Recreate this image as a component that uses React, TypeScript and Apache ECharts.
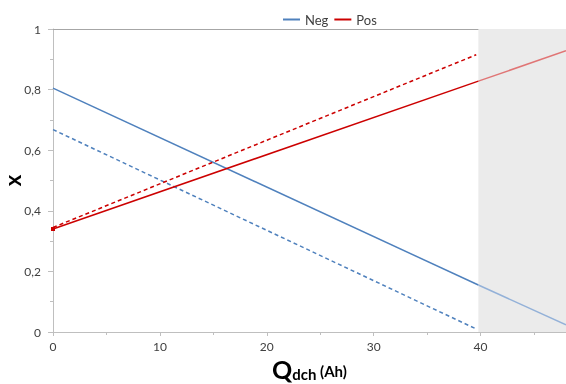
import React, { useEffect, useRef } from "react";
import * as echarts from "echarts";

const negSolid: [number, number][] = [[0, 0.805], [39.8, 0.155]];
const negSolidShaded: [number, number][] = [[39.8, 0.155], [48, 0.024]];
const negDashed: [number, number][] = [[0, 0.668], [39.6, 0.01]];
const posSolid: [number, number][] = [[0, 0.34], [39.8, 0.828]];
const posSolidShaded: [number, number][] = [[39.8, 0.828], [48, 0.928]];
const posDashed: [number, number][] = [[0, 0.345], [39.6, 0.915]];
const shadeRange: [number, number] = [39.8, 48];
const legendNames = ["Neg", "Pos"];

const BLUE = "#4f81bd";
const BLUE_LIGHT = "#93b1d8";
const RED = "#cc0000";
const RED_LIGHT = "#e07575";
const FONT = "Lato, 'Open Sans', sans-serif";

export default function App() {
  const ref = useRef<HTMLDivElement>(null);
  useEffect(() => {
    const chart = echarts.init(ref.current!, null, { renderer: "svg" });
    chart.setOption({
      animation: false,
      textStyle: { fontFamily: FONT },
      legend: {
        data: legendNames.map((n) => ({ name: n, icon: "rect" })),
        top: 8,
        left: 278,
        itemWidth: 17,
        itemHeight: 2,
        itemGap: 6,
        textStyle: { fontSize: 13, color: "#404040", fontFamily: FONT },
      },
      grid: { left: 53, right: 0, top: 29, bottom: 52, outerBoundsMode: "none", containLabel: false },
      xAxis: [
        {
          type: "value",
          min: 0,
          max: 48,
          interval: 10,
          name: "{q|Q}{s|dch}{a| (Ah)}",
          nameLocation: "middle",
          nameGap: 24,
          nameTextStyle: {
            rich: {
              q: { fontSize: 25, fontWeight: "bold", color: "#000", fontFamily: FONT },
              s: { fontSize: 15, fontWeight: "bold", color: "#000", fontFamily: FONT, padding: [10, 0, 0, 0] },
              a: { fontSize: 15, fontWeight: "bold", color: "#000", fontFamily: FONT, padding: [4, 0, 0, 0] },
            },
          },
          axisLine: { show: true, lineStyle: { color: "#bfbfbf" } },
          axisTick: { show: true, length: 4, lineStyle: { color: "#bfbfbf" } },
          minorTick: { show: true, splitNumber: 2, length: 3, lineStyle: { color: "#bfbfbf" } },
          axisLabel: {
            color: "#404040",
            fontSize: 12,
            margin: 8,
            showMaxLabel: false,
          },
          splitLine: { show: false },
        },
        {
          type: "value",
          position: "top",
          min: 0,
          max: 48,
          axisLine: { show: true, lineStyle: { color: "#a6a6a6" } },
          axisTick: { show: false },
          axisLabel: { show: false },
          splitLine: { show: false },
        },
      ],
      yAxis: {
        type: "value",
        min: 0,
        max: 1,
        interval: 0.2,
        name: "x",
        nameLocation: "middle",
        nameRotate: 90,
        nameGap: 30,
        nameMoveOverlap: false,
        nameTextStyle: { fontSize: 22, fontWeight: "bold", color: "#000", fontFamily: FONT },
        axisLine: { show: true, lineStyle: { color: "#bfbfbf" } },
        axisTick: { show: true, length: 5, lineStyle: { color: "#bfbfbf" } },
        minorTick: { show: true, splitNumber: 2, length: 3, lineStyle: { color: "#bfbfbf" } },
        axisLabel: {
          color: "#404040",
          fontSize: 12,
          margin: 12,
          formatter: (v: number) => String(Math.round(v * 10) / 10).replace(".", ","),
        },
        splitLine: { show: false },
      },
      series: [
        {
          name: "Neg",
          type: "line",
          data: negSolid,
          symbol: "none",
          lineStyle: { color: BLUE, width: 1.5 },
          itemStyle: { color: BLUE },
          z: 3,
          markArea: {
            silent: true,
            itemStyle: { color: "#ebebeb" },
            data: [[{ xAxis: shadeRange[0] }, { xAxis: shadeRange[1] }]],
          },
        },
        {
          name: "Neg shaded",
          type: "line",
          data: negSolidShaded,
          symbol: "none",
          lineStyle: { color: BLUE_LIGHT, width: 1.5 },
          z: 3,
        },
        {
          name: "Neg dashed",
          type: "line",
          data: negDashed,
          symbol: "none",
          lineStyle: { color: BLUE, width: 1.5, type: [4, 3] },
          z: 3,
        },
        {
          name: "Pos",
          type: "line",
          data: posSolid,
          symbol: "rect",
          symbolSize: (_v: any, p: any) => (p.dataIndex === 0 ? 4 : 0),
          lineStyle: { color: RED, width: 1.5 },
          itemStyle: { color: RED },
          z: 4,
        },
        {
          name: "Pos shaded",
          type: "line",
          data: posSolidShaded,
          symbol: "none",
          lineStyle: { color: RED_LIGHT, width: 1.5 },
          z: 3,
        },
        {
          name: "Pos dashed",
          type: "line",
          data: posDashed,
          symbol: "none",
          lineStyle: { color: RED, width: 1.5, type: [4, 3] },
          z: 3,
        },
      ],
    });
    return () => chart.dispose();
  }, []);
  return <div ref={ref} style={{ position: "fixed", left: 0, top: 0, width: 566, height: 384 }} />;
}
